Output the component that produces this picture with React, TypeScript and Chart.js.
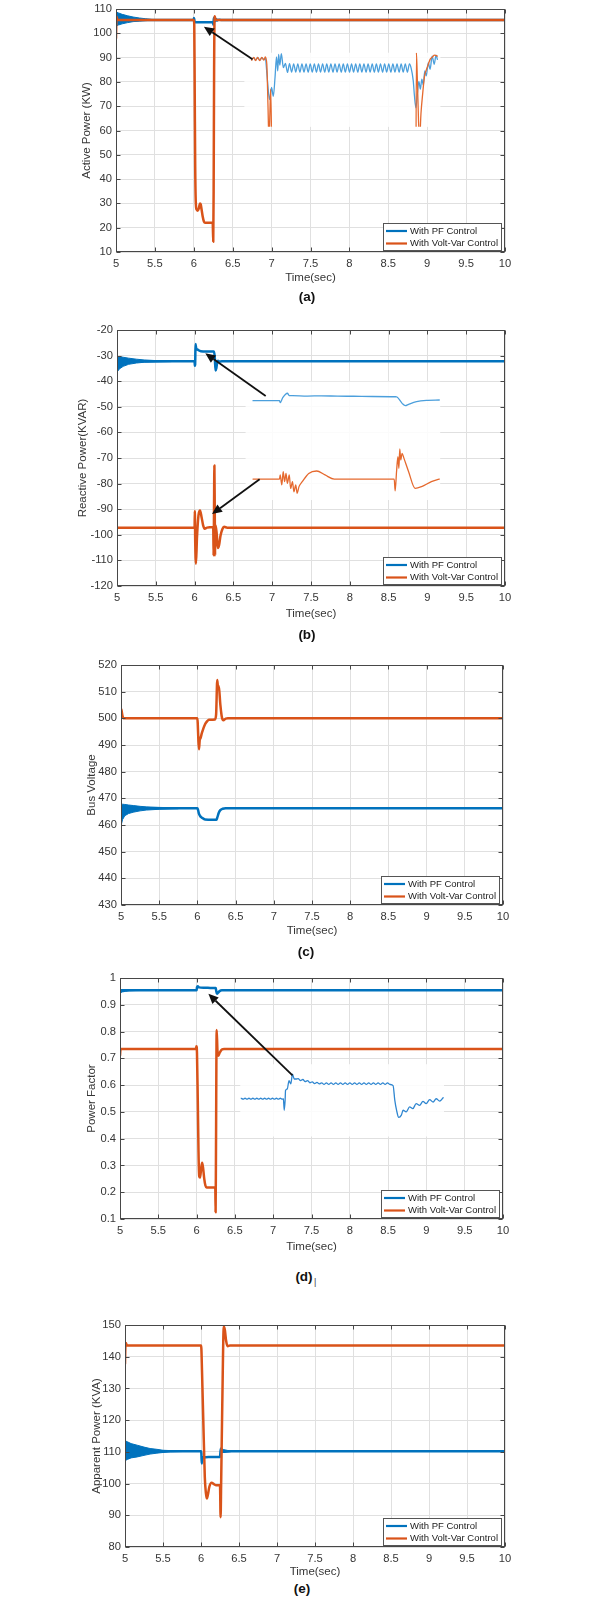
import React, { useEffect, useRef } from 'react';
import { Chart, registerables } from 'chart.js';

Chart.register(...registerables);

const FONT = "'Liberation Sans', Arial, Helvetica, sans-serif";
const BLUE = '#0072BD';
const ORANGE = '#D95319';
const INSET_BLUE = '#4B9FDC';
const INSET_ORANGE = '#E5692E';
const GRID = '#e0e0e0';
const TEXT = '#363636';

Chart.defaults.font.family = FONT;

// ---------- shared axis data ----------
const timeTicks = [5, 5.5, 6, 6.5, 7, 7.5, 8, 8.5, 9, 9.5, 10];
const legendLabels = ['With PF Control', 'With Volt-Var Control'];
const legendColors = [BLUE, ORANGE];

// ---------- (a) Active power ----------
const aYTicks = [10, 20, 30, 40, 50, 60, 70, 80, 90, 100, 110];
const aPfBandT = [5.0, 5.03, 5.08, 5.15, 5.22, 5.3, 5.38, 5.46];
const aPfBandHi = [108.8, 108.4, 107.8, 107.2, 106.7, 106.3, 106.0, 105.7];
const aPfBandLo = [102.9, 103.4, 103.9, 104.4, 104.8, 105.0, 105.2, 105.4];
const aPfT = [5.0, 5.46, 5.998, 6.003, 6.008, 6.015, 6.03, 6.1, 6.2, 6.246, 6.252, 6.258, 6.265, 6.272, 6.28, 6.29, 6.3, 6.32, 6.35, 10];
const aPfV = [105.5, 105.5, 105.5, 106.3, 105.2, 104.6, 104.5, 104.5, 104.5, 104.5, 103.6, 106.4, 104.9, 106.0, 105.1, 105.8, 105.3, 105.6, 105.5, 105.5];
const aVvT = [5.0, 5.003, 5.008, 5.015, 5.03, 6.0, 6.006, 6.012, 6.018, 6.025, 6.035, 6.05, 6.065, 6.08, 6.09, 6.1, 6.115, 6.13, 6.145, 6.2, 6.243, 6.25, 6.255, 6.261, 6.268, 6.275, 6.285, 6.3, 10];
const aVvV = [98, 103, 106.8, 105.9, 105.5, 105.5, 103.5, 75, 45, 31, 27.5, 27, 28, 30, 29.5, 27.5, 24.5, 22.5, 22, 22, 22, 14.2, 35, 85, 107, 106.2, 105.6, 105.5, 105.5];
// inset (a): zoom of 5.96 s .. 6.29 s
const iaPfPreT = [5.9716, 5.975, 5.978, 5.9815, 5.985, 5.9885, 5.992, 5.9945, 5.997, 6.0, 6.002, 6.005, 6.008, 6.011, 6.0134, 6.0155, 6.017, 6.019, 6.0216, 6.025];
const iaPfPreV = [105.56, 105.8, 105.5, 105.83, 105.5, 105.8, 105.56, 105.75, 104.0, 101.5, 100.75, 102.2, 101.14, 103.5, 105.9, 104.2, 106.2, 104.9, 106.3, 104.6];
const iaPfOscT = [6.0285, 6.032, 6.0355, 6.039, 6.0425, 6.046, 6.0495, 6.053, 6.0565, 6.06, 6.0635, 6.067, 6.0705, 6.074, 6.0775, 6.081, 6.0845, 6.088, 6.0915, 6.095, 6.0985, 6.102, 6.1055, 6.109, 6.1125, 6.116, 6.1195, 6.123, 6.1265, 6.13, 6.1335, 6.137, 6.1405, 6.144, 6.1475, 6.151, 6.1545, 6.158, 6.1615, 6.165, 6.1685, 6.172, 6.1755, 6.179, 6.1825, 6.186, 6.1895, 6.193, 6.1965, 6.2, 6.2035, 6.207, 6.2105, 6.214, 6.2175, 6.221, 6.2245, 6.228, 6.2315, 6.235, 6.2385];
const iaPfOscV = [105.1, 104.02, 105.08, 104.05, 105.06, 104.06, 105.06, 104.05, 105.05, 104.06, 105.06, 104.05, 105.05, 104.06, 105.06, 104.05, 105.05, 104.06, 105.06, 104.05, 105.05, 104.06, 105.06, 104.05, 105.05, 104.06, 105.06, 104.05, 105.05, 104.06, 105.06, 104.05, 105.05, 104.06, 105.06, 104.05, 105.05, 104.06, 105.06, 104.05, 105.05, 104.06, 105.06, 104.05, 105.05, 104.06, 105.06, 104.05, 105.05, 104.06, 105.06, 104.05, 105.05, 104.06, 105.06, 104.05, 105.05, 104.06, 105.06, 104.05, 105.05];
const iaPfEndT = [6.2415, 6.245, 6.247, 6.2495, 6.252, 6.2545, 6.257, 6.2595, 6.262, 6.2645, 6.267, 6.2705, 6.2735, 6.277, 6.2805, 6.2835, 6.2858];
const iaPfEndV = [104.5, 103.0, 101.2, 99.75, 101.5, 102.95, 102.0, 103.2, 102.5, 104.2, 103.6, 105.2, 104.4, 106.0, 105.0, 106.1, 105.6];
const iaVvT = [5.9716, 5.975, 5.978, 5.9815, 5.985, 5.9885, 5.992, 5.9945, 5.997, 5.999, 6.0005, 6.002, 6.0035, 6.005, 6.008, 6.02, 6.1, 6.2, 6.248, 6.2495, 6.2503, 6.252, 6.254, 6.2559, 6.258, 6.261, 6.264, 6.267, 6.2705, 6.2735, 6.2776, 6.281, 6.2858];
const iaVvV = [105.5, 105.85, 105.45, 105.85, 105.45, 105.85, 105.5, 105.9, 105.0, 100.0, 96.0, 98.5, 102.0, 96.0, 60, 30, 27.5, 22, 22, 90, 106.4, 103.0, 98.0, 96.0, 99.0, 101.5, 103.55, 104.3, 105.0, 105.6, 105.9, 106.1, 106.0];

// ---------- (b) Reactive power ----------
const bYTicks = [-120, -110, -100, -90, -80, -70, -60, -50, -40, -30, -20];
const bPfBandT = [5.0, 5.03, 5.08, 5.15, 5.25, 5.35, 5.5, 5.7];
const bPfBandHi = [-30.6, -30.4, -30.65, -31.0, -31.4, -31.7, -31.95, -32.1];
const bPfBandLo = [-36.5, -35.2, -34.2, -33.4, -32.9, -32.6, -32.5, -32.35];
const bPfT = [5.0, 5.7, 6.0, 6.003, 6.007, 6.012, 6.02, 6.04, 6.08, 6.15, 6.25, 6.26, 6.27, 6.28, 6.29, 6.3, 6.32, 6.35, 10];
const bPfV = [-32.2, -32.2, -32.2, -34.0, -33.5, -25.45, -27.1, -27.7, -28.3, -28.4, -28.4, -30.65, -35.85, -34.9, -32.9, -32.0, -32.35, -32.2, -32.2];
const bVvT = [5.0, 6.0, 6.003, 6.008, 6.018, 6.03, 6.05, 6.07, 6.09, 6.11, 6.13, 6.16, 6.24, 6.245, 6.25, 6.255, 6.26, 6.264, 6.27, 6.285, 6.3, 6.315, 6.335, 6.36, 6.38, 6.42, 10];
const bVvV = [-97.2, -97.2, -90.7, -102.8, -111.3, -101.5, -92.4, -90.5, -93.1, -96.3, -97.6, -97.2, -97.0, -108.0, -91.1, -72.9, -91.1, -108.0, -96.3, -99.6, -105.2, -104.1, -100.2, -97.6, -96.9, -97.2, -97.2];
// inset (b): zoom of 5.927 s .. 6.346 s
const ibPfT = [5.943, 6.0, 6.0015, 6.007, 6.017, 6.021, 6.028, 6.06, 6.09, 6.125, 6.16, 6.2, 6.25, 6.253, 6.264, 6.271, 6.278, 6.295, 6.319, 6.344];
const ibPfV = [-32.4, -32.4, -34.0, -29.9, -26.2, -28.1, -28.2, -28.5, -28.3, -28.6, -28.7, -28.9, -29.1, -29.3, -34.6, -36.5, -35.4, -33.2, -32.1, -31.8];
const ibVvT = [5.943, 6.0, 6.0015, 6.005, 6.008, 6.011, 6.014, 6.017, 6.021, 6.024, 6.028, 6.031, 6.035, 6.038, 6.042, 6.049, 6.063, 6.08, 6.098, 6.118, 6.247, 6.249, 6.252, 6.255, 6.257, 6.259, 6.261, 6.264, 6.268, 6.278, 6.292, 6.306, 6.327, 6.344];
const ibVvV = [-97.5, -97.5, -94.1, -102.4, -91.4, -99.7, -92.8, -101.0, -94.1, -105.3, -99.7, -108.1, -102.4, -109.3, -103.8, -99.7, -92.8, -90.8, -94.1, -97.5, -97.5, -107.4, -91.4, -78.9, -88.6, -72.5, -81.6, -76.1, -80.3, -91.4, -105.2, -103.8, -99.7, -97.5];

// ---------- (c) Bus voltage ----------
const cYTicks = [430, 440, 450, 460, 470, 480, 490, 500, 510, 520];
const cPfBandT = [5.0, 5.02, 5.05, 5.1, 5.16, 5.25, 5.33, 5.5, 5.75];
const cPfBandHi = [467.5, 467.8, 467.7, 467.5, 467.3, 467.0, 466.8, 466.6, 466.4];
const cPfBandLo = [459.6, 462.0, 463.5, 464.3, 464.8, 465.3, 465.6, 465.9, 466.1];
const cPfT = [5.0, 5.75, 6.0, 6.01, 6.02, 6.035, 6.06, 6.1, 6.2, 6.25, 6.26, 6.28, 6.3, 6.33, 6.37, 10];
const cPfV = [466.25, 466.25, 466.25, 465.5, 464.25, 463.4, 462.75, 462.1, 462.0, 462.0, 462.75, 464.6, 465.6, 466.1, 466.25, 466.25];
const cVvT = [5.0, 5.005, 5.012, 5.02, 5.03, 6.0, 6.005, 6.013, 6.021, 6.03, 6.04, 6.06, 6.1, 6.13, 6.15, 6.23, 6.245, 6.26, 6.27, 6.28, 6.3, 6.32, 6.34, 6.37, 6.4, 10];
const cVvV = [502.75, 503.4, 502.1, 500.9, 500.0, 500.0, 497.75, 491.5, 488.4, 491.75, 492.5, 494.6, 497.75, 499.0, 499.5, 499.6, 501.5, 514.4, 511.5, 512.1, 505.25, 500.5, 499.25, 499.9, 500.0, 500.0];

// ---------- (d) Power factor ----------
const dYTicks = [0.1, 0.2, 0.3, 0.4, 0.5, 0.6, 0.7, 0.8, 0.9, 1];
const dPfBandT = [5.0, 5.03, 5.07, 5.12, 5.2, 5.3];
const dPfBandHi = [0.955, 0.957, 0.957, 0.956, 0.955, 0.9545];
const dPfBandLo = [0.944, 0.948, 0.95, 0.952, 0.953, 0.9535];
const dPfT = [5.0, 5.3, 6.0, 6.005, 6.015, 6.03, 6.1, 6.2, 6.25, 6.255, 6.265, 6.28, 6.3, 6.33, 10];
const dPfV = [0.954, 0.954, 0.954, 0.965, 0.969, 0.965, 0.964, 0.9625, 0.9625, 0.954, 0.941, 0.945, 0.951, 0.954, 0.954];
const dVvT = [5.0, 5.008, 5.99, 5.998, 6.005, 6.015, 6.025, 6.034, 6.045, 6.06, 6.072, 6.085, 6.1, 6.115, 6.13, 6.244, 6.248, 6.253, 6.262, 6.272, 6.285, 6.3, 6.33, 6.36, 10];
const dVvV = [0.71, 0.735, 0.735, 0.745, 0.72, 0.55, 0.35, 0.26, 0.255, 0.29, 0.31, 0.29, 0.25, 0.225, 0.218, 0.218, 0.125, 0.35, 0.806, 0.73, 0.71, 0.72, 0.733, 0.735, 0.735];
// inset (d): zoom of 5.901 s .. 6.369 s
const idPfPreT = [5.903, 5.9075, 5.912, 5.9165, 5.921, 5.9255, 5.93, 5.9345, 5.939, 5.9435, 5.948, 5.9525, 5.957, 5.9615, 5.966, 5.9705, 5.975, 5.9795, 5.984, 5.9885, 5.993, 5.9975];
const idPfPreV = [0.9543, 0.9537, 0.9543, 0.9537, 0.9543, 0.9537, 0.9543, 0.9537, 0.9543, 0.9537, 0.9543, 0.9537, 0.9543, 0.9537, 0.9543, 0.9537, 0.9543, 0.9537, 0.9543, 0.9537, 0.9543, 0.9537];
const idPfEventT = [6.0, 6.002, 6.004, 6.005, 6.009, 6.013, 6.017, 6.021, 6.025, 6.029];
const idPfEventV = [0.954, 0.947, 0.953, 0.959, 0.96, 0.965, 0.963, 0.969, 0.966, 0.966];
const idPfRippleT = [6.034, 6.0394, 6.0448, 6.0502, 6.0556, 6.061, 6.0664, 6.0718, 6.0772, 6.0826, 6.088, 6.0934, 6.0988, 6.1042, 6.1096, 6.115, 6.1204, 6.1258, 6.1312, 6.1366, 6.142, 6.1474, 6.1528, 6.1582, 6.1636, 6.169, 6.1744, 6.1798, 6.1852, 6.1906, 6.196, 6.2014, 6.2068, 6.2122, 6.2176, 6.223, 6.2284, 6.2338, 6.2392, 6.2446];
const idPfRippleV = [0.9662, 0.965, 0.9657, 0.9644, 0.965, 0.9637, 0.9643, 0.9632, 0.964, 0.963, 0.9637, 0.9627, 0.9637, 0.9627, 0.9637, 0.9627, 0.9637, 0.9627, 0.9637, 0.9627, 0.9637, 0.9627, 0.9637, 0.9627, 0.9637, 0.9627, 0.9637, 0.9627, 0.9637, 0.9627, 0.9637, 0.9627, 0.9637, 0.9627, 0.9637, 0.9627, 0.9637, 0.9627, 0.9637, 0.9627];
const idPfEndT = [6.252, 6.256, 6.26, 6.265, 6.271, 6.275, 6.282, 6.29, 6.2975, 6.305, 6.313, 6.3206, 6.328, 6.336, 6.344, 6.351, 6.359, 6.367];
const idPfEndV = [0.962, 0.953, 0.947, 0.9426, 0.944, 0.947, 0.946, 0.949, 0.948, 0.951, 0.95, 0.9524, 0.951, 0.9534, 0.952, 0.954, 0.9526, 0.9546];

// ---------- (e) Apparent power ----------
const eYTicks = [80, 90, 100, 110, 120, 130, 140, 150];
const ePfBandT = [5.0, 5.03, 5.08, 5.16, 5.25, 5.33, 5.42, 5.5, 5.6, 5.75];
const ePfBandHi = [113.5, 113.2, 112.6, 112.1, 111.5, 111.05, 110.8, 110.5, 110.4, 110.3];
const ePfBandLo = [107.2, 107.6, 108.1, 108.4, 108.9, 109.3, 109.6, 109.8, 110.0, 110.1];
const ePfBand2T = [6.26, 6.3, 6.35, 6.4];
const ePfBand2Hi = [111.2, 110.7, 110.45, 110.3];
const ePfBand2Lo = [109.6, 109.9, 110.0, 110.1];
const ePfT = [5.0, 5.75, 6.0, 6.005, 6.01, 6.015, 6.02, 6.1, 6.25, 6.26, 6.27, 6.28, 6.4, 10];
const ePfV = [110.2, 110.2, 110.2, 109.5, 106.3, 108.4, 108.2, 108.4, 108.4, 111.0, 110.4, 110.0, 110.2, 110.2];
const eVvT = [5.0, 5.005, 5.012, 5.025, 6.0, 6.005, 6.013, 6.03, 6.05, 6.065, 6.077, 6.09, 6.11, 6.14, 6.17, 6.2, 6.25, 6.258, 6.265, 6.28, 6.3, 6.315, 6.33, 6.35, 6.38, 10];
const eVvV = [137.8, 143.0, 144.3, 143.5, 143.5, 142.5, 135.7, 120.0, 102.1, 96.9, 95.3, 96.4, 99.0, 100.25, 99.8, 99.5, 99.5, 89.4, 100.0, 125.0, 149.5, 148.3, 145.1, 143.3, 143.5, 143.5];

// ---------- helpers ----------
const zip = (t: number[], v: number[]) => t.map((x, i) => ({ x, y: v[i] }));

const panels: any[] = [
  {
    id: 'a', caption: '(a)', yTitle: 'Active Power (KW)', yTicks: aYTicks,
    pf: zip(aPfT, aPfV), vv: zip(aVvT, aVvV),
    bands: [{ hi: zip(aPfBandT, aPfBandHi), lo: zip(aPfBandT, aPfBandLo) }],
    inset: {
      rect: { t1: 6.65, t2: 9.17, v1: 61.5, v2: 92 },
      win: { t1: 5.959, t2: 6.291, v1: 97.45, v2: 106.4 },
      pf: [...zip(iaPfPreT, iaPfPreV), ...zip(iaPfOscT, iaPfOscV), ...zip(iaPfEndT, iaPfEndV)],
      vv: zip(iaVvT, iaVvV),
    },
    arrows: [{ from: [6.754, 89.3], to: [6.13, 102.7] }],
    box: { L: 116, T: 9, R: 505, B: 252 }, yTitleX: 87, xTitleY: 278, cap: { x: 307, y: 296 },
  },
  {
    id: 'b', caption: '(b)', yTitle: 'Reactive Power(KVAR)', yTicks: bYTicks,
    pf: zip(bPfT, bPfV), vv: zip(bVvT, bVvV),
    bands: [{ hi: zip(bPfBandT, bPfBandHi), lo: zip(bPfBandT, bPfBandLo) }],
    inset: {
      rect: { t1: 6.657, t2: 9.165, v1: -86.4, v2: -40.2 },
      win: { t1: 5.927, t2: 6.346, v1: -114.9, v2: -16.6 },
      pf: zip(ibPfT, ibPfV),
      vv: zip(ibVvT, ibVvV),
    },
    arrows: [
      { from: [6.916, -45.8], to: [6.138, -29.1] },
      { from: [6.838, -78.3], to: [6.224, -91.9] },
    ],
    box: { L: 117, T: 330, R: 505, B: 586 }, yTitleX: 83, xTitleY: 614, cap: { x: 307, y: 634 },
  },
  {
    id: 'c', caption: '(c)', yTitle: 'Bus Voltage', yTicks: cYTicks,
    pf: zip(cPfT, cPfV), vv: zip(cVvT, cVvV),
    bands: [{ hi: zip(cPfBandT, cPfBandHi), lo: zip(cPfBandT, cPfBandLo) }],
    inset: null, arrows: [],
    box: { L: 121, T: 665, R: 503, B: 905 }, yTitleX: 92, xTitleY: 931, cap: { x: 306, y: 951 },
  },
  {
    id: 'd', caption: '(d)', yTitle: 'Power Factor', yTicks: dYTicks,
    pf: zip(dPfT, dPfV), vv: zip(dVvT, dVvV),
    bands: [{ hi: zip(dPfBandT, dPfBandHi), lo: zip(dPfBandT, dPfBandLo) }],
    inset: {
      rect: { t1: 6.57, t2: 9.23, v1: 0.408, v2: 0.678 },
      win: { t1: 5.901, t2: 6.369, v1: 0.931, v2: 0.975 },
      pf: [...zip(idPfPreT, idPfPreV), ...zip(idPfEventT, idPfEventV), ...zip(idPfRippleT, idPfRippleV), ...zip(idPfEndT, idPfEndV)],
      vv: [],
      pfColor: '#2F86D0',
    },
    arrows: [{ from: [7.252, 0.6365], to: [6.154, 0.941] }],
    box: { L: 120, T: 978, R: 503, B: 1219 }, yTitleX: 92, xTitleY: 1247, cap: { x: 304, y: 1276 },
    mark: true,
  },
  {
    id: 'e', caption: '(e)', yTitle: 'Apparent Power (KVA)', yTicks: eYTicks,
    pf: zip(ePfT, ePfV), vv: zip(eVvT, eVvV),
    bands: [
      { hi: zip(ePfBandT, ePfBandHi), lo: zip(ePfBandT, ePfBandLo) },
      { hi: zip(ePfBand2T, ePfBand2Hi), lo: zip(ePfBand2T, ePfBand2Lo) },
    ],
    inset: null, arrows: [],
    box: { L: 125, T: 1325, R: 505, B: 1547 }, yTitleX: 97, xTitleY: 1572, cap: { x: 302, y: 1588 },
  },
];

const CANVAS_LEFT = 60;
const CANVAS_RIGHT = 545;
const PAD_TOP = 14;
const TITLE_FONT = 11.5;
const TITLE_LH = 1.2;
const TICK_FONT = 11.2;

// ---------- plugins ----------
const framePlugin = {
  id: 'frame',
  afterDatasetsDraw(chart: any) {
    const { ctx, chartArea: a, scales } = chart;
    ctx.save();
    ctx.strokeStyle = '#474747';
    ctx.lineWidth = 1;
    const l = Math.round(a.left) + 0.5, r = Math.round(a.right) - 0.5;
    const t = Math.round(a.top) + 0.5, b = Math.round(a.bottom) - 0.5;
    ctx.strokeRect(l, t, r - l, b - t);
    ctx.beginPath();
    scales.x.ticks.forEach((tk: any) => {
      const px = Math.round(scales.x.getPixelForValue(tk.value)) + 0.5;
      ctx.moveTo(px, b); ctx.lineTo(px, b - 4);
      ctx.moveTo(px, t); ctx.lineTo(px, t + 4);
    });
    scales.y.ticks.forEach((tk: any) => {
      const py = Math.round(scales.y.getPixelForValue(tk.value)) + 0.5;
      ctx.moveTo(l, py); ctx.lineTo(l + 4, py);
      ctx.moveTo(r, py); ctx.lineTo(r - 4, py);
    });
    ctx.stroke();
    ctx.restore();
  },
};

const legendPlugin = {
  id: 'boxLegend',
  afterDraw(chart: any) {
    const { ctx, chartArea: a } = chart;
    ctx.save();
    ctx.font = `9.5px ${FONT}`;
    const tw = Math.max(...legendLabels.map((l) => ctx.measureText(l).width));
    const w = Math.round(27 + tw + 3);
    const h = 27;
    const x = Math.round(a.right - 4 - w);
    const y = Math.round(a.bottom - 2 - h);
    ctx.fillStyle = '#ffffff';
    ctx.fillRect(x, y, w, h);
    ctx.strokeStyle = '#555555';
    ctx.lineWidth = 1;
    ctx.strokeRect(x + 0.5, y + 0.5, w, h);
    legendLabels.forEach((label, i) => {
      const cy = y + 8 + i * 12.5;
      ctx.strokeStyle = legendColors[i];
      ctx.lineWidth = 2.2;
      ctx.beginPath();
      ctx.moveTo(x + 3, cy);
      ctx.lineTo(x + 24, cy);
      ctx.stroke();
      ctx.fillStyle = '#222222';
      ctx.textBaseline = 'middle';
      ctx.textAlign = 'left';
      ctx.fillText(label, x + 27, cy);
    });
    ctx.restore();
  },
};

const insetBgPlugin = {
  id: 'insetBg',
  beforeDatasetsDraw(chart: any) {
    const { ctx, chartArea: a } = chart;
    ctx.save();
    ctx.fillStyle = 'rgba(255,255,255,0.86)';
    ctx.fillRect(a.left, a.top, a.right - a.left, a.bottom - a.top);
    ctx.restore();
  },
};

function drawArrow(ctx: any, x1: number, y1: number, x2: number, y2: number) {
  const ang = Math.atan2(y2 - y1, x2 - x1);
  const headLen = 10;
  const headW = 4.5;
  const bx = x2 - headLen * Math.cos(ang);
  const by = y2 - headLen * Math.sin(ang);
  ctx.strokeStyle = '#111111';
  ctx.fillStyle = '#111111';
  ctx.lineWidth = 1.8;
  ctx.beginPath();
  ctx.moveTo(x1, y1);
  ctx.lineTo(bx, by);
  ctx.stroke();
  ctx.beginPath();
  ctx.moveTo(x2, y2);
  ctx.lineTo(bx + headW * Math.sin(ang), by - headW * Math.cos(ang));
  ctx.lineTo(bx - headW * Math.sin(ang), by + headW * Math.cos(ang));
  ctx.closePath();
  ctx.fill();
}

function makeArrowPlugin(parent: any, arrows: any[]) {
  return {
    id: 'arrows',
    afterDraw(chart: any) {
      const ctx = chart.ctx;
      const xs = parent.scales.x;
      const ys = parent.scales.y;
      ctx.save();
      arrows.forEach((ar) => {
        drawArrow(
          ctx,
          xs.getPixelForValue(ar.from[0]), ys.getPixelForValue(ar.from[1]),
          xs.getPixelForValue(ar.to[0]), ys.getPixelForValue(ar.to[1])
        );
      });
      ctx.restore();
    },
  };
}

function lineDs(data: any[], color: string, width: number, order: number, label?: string) {
  return {
    label, data, borderColor: color, backgroundColor: color, borderWidth: width,
    pointRadius: 0, fill: false, order, cubicInterpolationMode: 'monotone',
    borderJoinStyle: 'round', borderCapStyle: 'round',
  };
}

function Panel({ spec }: { spec: any }) {
  const mainRef = useRef<HTMLCanvasElement>(null);
  const overRef = useRef<HTMLCanvasElement>(null);
  const top = spec.box.T - PAD_TOP;
  const bottom = spec.xTitleY + (TITLE_FONT * TITLE_LH) / 2;
  const W = CANVAS_RIGHT - CANVAS_LEFT;
  const H = Math.round(bottom - top);

  useEffect(() => {
    const padLeft = spec.yTitleX - CANVAS_LEFT - (TITLE_FONT * TITLE_LH) / 2;
    const datasets: any[] = [];
    spec.bands.forEach((b: any) => {
      datasets.push({ data: b.hi, borderColor: BLUE, backgroundColor: BLUE, borderWidth: 1, pointRadius: 0, fill: false, order: 2, tension: 0 });
      datasets.push({ data: b.lo, borderColor: BLUE, backgroundColor: BLUE, borderWidth: 1, pointRadius: 0, fill: '-1', order: 2, tension: 0 });
    });
    datasets.push(lineDs(spec.pf, BLUE, 2.5, 1, legendLabels[0]));
    datasets.push(lineDs(spec.vv, ORANGE, 2.5, 0, legendLabels[1]));

    const yTicks: number[] = spec.yTicks;
    const main = new Chart(mainRef.current as HTMLCanvasElement, {
      type: 'line',
      data: { datasets },
      options: {
        responsive: false,
        animation: false,
        devicePixelRatio: 1,
        layout: { padding: { left: padLeft, top: PAD_TOP, right: CANVAS_RIGHT - spec.box.R, bottom: 0 } },
        scales: {
          x: {
            type: 'linear', min: 5, max: 10,
            afterBuildTicks: (s: any) => { s.ticks = timeTicks.map((v) => ({ value: v })); },
            afterFit: (s: any) => { s.height = H - (spec.box.B - top); },
            grid: { color: GRID, drawTicks: false },
            border: { display: false },
            ticks: { padding: 5, autoSkip: false, maxRotation: 0, color: TEXT, font: { size: TICK_FONT }, callback: (v: any) => String(v) },
            title: { display: true, text: 'Time(sec)', color: TEXT, padding: 0, font: { size: TITLE_FONT, lineHeight: TITLE_LH } },
          },
          y: {
            type: 'linear', min: yTicks[0], max: yTicks[yTicks.length - 1],
            afterBuildTicks: (s: any) => { s.ticks = yTicks.map((v) => ({ value: v })); },
            afterFit: (s: any) => { s.width = spec.box.L - CANVAS_LEFT - padLeft; },
            grid: { color: GRID, drawTicks: false },
            border: { display: false },
            ticks: { padding: 4, autoSkip: false, color: TEXT, font: { size: TICK_FONT }, callback: (v: any) => String(v) },
            title: { display: true, text: spec.yTitle, color: TEXT, padding: 0, font: { size: TITLE_FONT, lineHeight: TITLE_LH } },
          },
        },
        plugins: { legend: { display: false }, tooltip: { enabled: false } },
      } as any,
      plugins: [framePlugin, legendPlugin],
    });

    let over: any = null;
    if (spec.inset && overRef.current) {
      const xs = main.scales.x;
      const ys = main.scales.y;
      const r = spec.inset.rect;
      const x1 = xs.getPixelForValue(r.t1);
      const x2 = xs.getPixelForValue(r.t2);
      const y1 = ys.getPixelForValue(r.v2);
      const y2 = ys.getPixelForValue(r.v1);
      const w = spec.inset.win;
      const insetDs: any[] = [];
      if (spec.inset.pf.length) insetDs.push(lineDs(spec.inset.pf, spec.inset.pfColor || INSET_BLUE, 1.3, 1));
      if (spec.inset.vv.length) insetDs.push(lineDs(spec.inset.vv, INSET_ORANGE, 1.3, 0));
      over = new Chart(overRef.current, {
        type: 'line',
        data: { datasets: insetDs },
        options: {
          responsive: false,
          animation: false,
          devicePixelRatio: 1,
          layout: { padding: { left: x1, top: y1, right: W - x2, bottom: H - y2 } },
          scales: {
            x: { type: 'linear', display: false, min: w.t1, max: w.t2 },
            y: { type: 'linear', display: false, min: w.v1, max: w.v2 },
          },
          plugins: { legend: { display: false }, tooltip: { enabled: false } },
        } as any,
        plugins: [insetBgPlugin, makeArrowPlugin(main, spec.arrows)],
      });
    }
    return () => {
      if (over) over.destroy();
      main.destroy();
    };
  }, []);

  const canvasStyle: any = { position: 'absolute', left: CANVAS_LEFT, top, width: W, height: H };
  return (
    <>
      <canvas ref={mainRef} width={W} height={H} style={canvasStyle} />
      {spec.inset ? (
        <canvas ref={overRef} width={W} height={H} style={{ ...canvasStyle, pointerEvents: 'none' }} />
      ) : null}
      <div
        style={{
          position: 'absolute', left: spec.cap.x, top: spec.cap.y, transform: 'translate(-50%, -50%)',
          font: `bold 13.5px ${FONT}`, color: '#111', whiteSpace: 'nowrap',
        }}
      >
        {spec.caption}
      </div>
      {spec.mark ? (
        <div style={{ position: 'absolute', left: spec.cap.x + 10, top: spec.cap.y + 1, font: `9px ${FONT}`, color: '#444' }}>|</div>
      ) : null}
    </>
  );
}

export default function App() {
  return (
    <div style={{ position: 'absolute', left: 0, top: 0, width: 600, height: 1600, background: '#ffffff', overflow: 'hidden' }}>
      {panels.map((p) => (
        <Panel key={p.id} spec={p} />
      ))}
    </div>
  );
}
